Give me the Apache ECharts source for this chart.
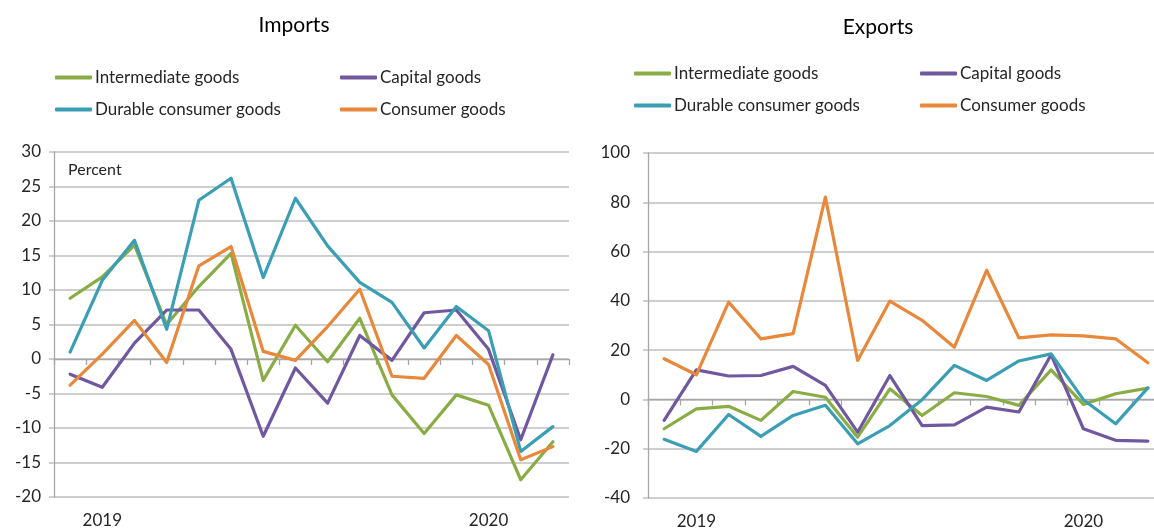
<!DOCTYPE html>
<html>
<head>
<meta charset="utf-8">
<script src="https://cdn.jsdelivr.net/npm/echarts@6/dist/echarts.min.js"></script>
<style>
html,body{margin:0;padding:0;background:#fff;}
#c{width:1154px;height:529px;}
</style>
</head>
<body>
<div id="c"></div>
<script>
// ---- data ----
var categories = ['2018-12','2019-01','2019-02','2019-03','2019-04','2019-05','2019-06','2019-07','2019-08','2019-09','2019-10','2019-11','2019-12','2020-01','2020-02','2020-03'];
var xTickLabels = ['', '2019', '', '', '', '', '', '', '', '', '', '', '', '2020', '', ''];
var seriesNames = ['Intermediate goods', 'Capital goods', 'Durable consumer goods', 'Consumer goods'];

var importsIntermediate = [8.8, 11.9, 16.5, 5.0, 10.5, 15.3, -3.1, 4.9, -0.4, 5.9, -5.2, -10.8, -5.2, -6.7, -17.5, -12.0];
var importsCapital      = [-2.2, -4.1, 2.3, 7.1, 7.1, 1.4, -11.2, -1.3, -6.4, 3.4, -0.2, 6.7, 7.1, 1.4, -11.7, 0.6];
var importsDurable      = [1.0, 11.4, 17.2, 4.3, 23.0, 26.2, 11.8, 23.3, 16.4, 11.1, 8.2, 1.6, 7.6, 4.1, -13.4, -9.8];
var importsConsumer     = [-3.8, 0.7, 5.6, -0.5, 13.5, 16.3, 1.1, -0.2, 4.7, 10.1, -2.5, -2.8, 3.4, -0.8, -14.6, -12.7];

var exportsIntermediate = [-11.9, -3.8, -2.8, -8.5, 3.2, 0.9, -15.3, 4.3, -6.5, 2.7, 1.2, -2.4, 12.0, -2.0, 2.3, 4.6];
var exportsCapital      = [-8.5, 12.0, 9.5, 9.7, 13.4, 5.7, -13.3, 9.7, -10.6, -10.3, -3.1, -5.1, 18.1, -11.9, -16.6, -16.9];
var exportsDurable      = [-16.2, -21.1, -6.1, -15.0, -6.5, -2.4, -18.0, -10.6, -0.1, 13.8, 7.7, 15.6, 18.5, -0.1, -9.9, 4.7];
var exportsConsumer     = [16.5, 10.0, 39.5, 24.6, 26.7, 82.1, 15.8, 39.9, 32.1, 21.2, 52.4, 25.0, 26.2, 25.8, 24.6, 14.9];

var importsTicks = {min: -20, max: 30, interval: 5};
var exportsTicks = {min: -40, max: 100, interval: 20};
// ---- end data ----

var colors = ['#8AAC45', '#7058A0', '#3A9EB5', '#E8883A'];
var FONT = 'Lato, "Open Sans", sans-serif';
var gridColor = '#BFBFBF';
var axisColor = '#A6A6A6';
var textColor = '#262626';

// axis drawn at zero with ticks, no labels
function xAxisZero(gridIndex) {
  return {
    type: 'category', gridIndex: gridIndex, data: categories, boundaryGap: true,
    axisLine: {show: true, onZero: true, lineStyle: {color: axisColor, width: 1.3}},
    axisTick: {show: true, interval: 0, length: 6, lineStyle: {color: axisColor, width: 1.3}},
    axisLabel: {show: false},
    splitLine: {show: false}
  };
}
// label-only axis at the bottom of the grid
function xAxisLabels(gridIndex) {
  return {
    type: 'category', gridIndex: gridIndex, data: categories, boundaryGap: true, position: 'bottom',
    axisLine: {show: false, onZero: false},
    axisTick: {show: false},
    axisLabel: {
      show: true, interval: 0, margin: 15,
      fontFamily: FONT, fontSize: 17, color: textColor,
      formatter: function (v, i) { return xTickLabels[i]; }
    },
    splitLine: {show: false}
  };
}
function yAxisCfg(gridIndex, t, margin) {
  return {
    type: 'value', gridIndex: gridIndex, min: t.min, max: t.max, interval: t.interval,
    axisLine: {show: true, lineStyle: {color: axisColor, width: 1.3}},
    axisTick: {show: true, length: 5, lineStyle: {color: gridColor, width: 1.5}},
    axisLabel: {margin: margin, fontFamily: FONT, fontSize: 17, color: textColor},
    splitLine: {show: true, lineStyle: {color: gridColor, width: 1.5}}
  };
}
function line(name, data, idx, colorIdx) {
  return {
    name: name, type: 'line', data: data, xAxisIndex: idx, yAxisIndex: idx,
    symbol: 'none', smooth: false, animation: false,
    lineStyle: {width: 3.2, color: colors[colorIdx], cap: 'round', join: 'round'},
    itemStyle: {color: colors[colorIdx]}
  };
}
function legendCfg(name, left, centerY) {
  return {
    data: [name], left: left, top: centerY - 10, padding: 0,
    icon: 'roundRect', itemWidth: 37, itemHeight: 4,
    selectedMode: false,
    textStyle: {fontFamily: FONT, fontSize: 17, color: textColor, padding: [0,0,0,-2]}
  };
}

var chart = echarts.init(document.getElementById('c'), null, {renderer: 'canvas'});
chart.setOption({
  animation: false,
  backgroundColor: '#ffffff',
  title: [
    {text: 'Imports', left: 289, top: 10, textAlign: 'center', textStyle: {fontFamily: FONT, fontSize: 21, fontWeight: 'normal', color: '#000'}},
    {text: 'Exports', left: 873, top: 12, textAlign: 'center', textStyle: {fontFamily: FONT, fontSize: 21, fontWeight: 'normal', color: '#000'}}
  ],
  legend: [
    legendCfg(seriesNames[0], 55, 79),
    legendCfg(seriesNames[1], 340, 79),
    legendCfg(seriesNames[2], 55, 111),
    legendCfg(seriesNames[3], 340, 111),
    legendCfg(seriesNames[0], 634, 75),
    legendCfg(seriesNames[1], 920, 75),
    legendCfg(seriesNames[2], 634, 107),
    legendCfg(seriesNames[3], 920, 107)
  ],
  grid: [
    {left: 54, top: 152, width: 515, height: 345, outerBoundsMode: 'none', containLabel: false},
    {left: 648, top: 153, width: 516, height: 345, outerBoundsMode: 'none', containLabel: false}
  ],
  xAxis: [xAxisZero(0), xAxisZero(1), xAxisLabels(0), xAxisLabels(1)],
  yAxis: [yAxisCfg(0, importsTicks, 13), yAxisCfg(1, exportsTicks, 18)],
  graphic: [
    {type: 'text', left: 68, top: 162, style: {text: 'Percent', fontFamily: FONT, fontSize: 16, fill: textColor}}
  ],
  series: [
    line(seriesNames[0], importsIntermediate, 0, 0),
    line(seriesNames[1], importsCapital, 0, 1),
    line(seriesNames[2], importsDurable, 0, 2),
    line(seriesNames[3], importsConsumer, 0, 3),
    line(seriesNames[0], exportsIntermediate, 1, 0),
    line(seriesNames[1], exportsCapital, 1, 1),
    line(seriesNames[2], exportsDurable, 1, 2),
    line(seriesNames[3], exportsConsumer, 1, 3)
  ]
});
</script>
</body>
</html>
